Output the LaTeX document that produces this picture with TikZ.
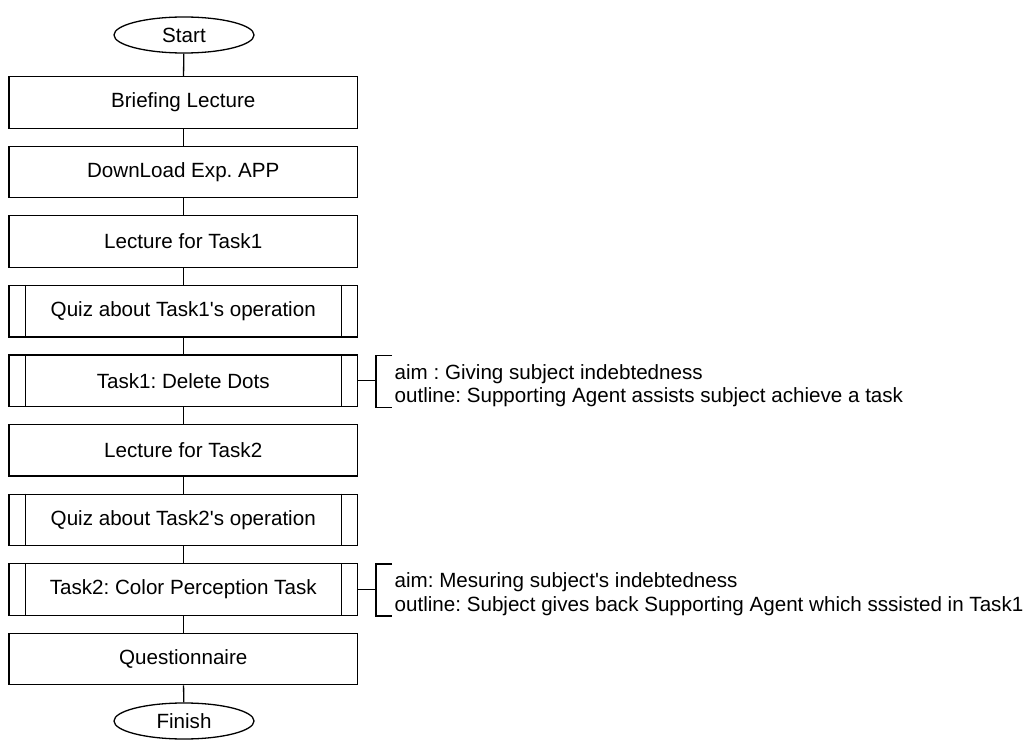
\documentclass[tikz,border=0pt]{standalone}
\usepackage{fontspec}
\newfontfamily\arialfont{Liberation Sans}
\usetikzlibrary{shapes.geometric}
\begin{document}
\frenchspacing
\begin{tikzpicture}[x=1pt,y=-1pt,
  every node/.style={font=\arialfont\fontsize{20.6}{23.3}\selectfont},
  line/.style={line width=1.3pt, black},
  proc/.style={draw, line width=1.3pt, rectangle, minimum width=348.5pt, minimum height=51.5pt, inner sep=0pt},
  subproc/.style={proc, append after command={
      \pgfextra{\draw[line width=1.3pt] ([xshift=17pt]\tikzlastnode.north west) -- ([xshift=17pt]\tikzlastnode.south west);
                \draw[line width=1.3pt] ([xshift=-17pt]\tikzlastnode.north east) -- ([xshift=-17pt]\tikzlastnode.south east);}}},
  term/.style={draw, line width=1.3pt, ellipse, minimum width=140pt, minimum height=36pt, inner sep=0pt},
  note/.style={anchor=west, align=left, inner sep=0pt}
]
\useasboundingbox (0,0) rectangle (1034,751);
\node[term] (start) at (184,35) {Start};
\node[proc] (b1) at (183.25,102.5) {Briefing Lecture};
\node[proc] (b2) at (183.25,172.1) {DownLoad Exp. APP};
\node[proc] (b3) at (183.25,241.6) {Lecture for Task1};
\node[subproc] (b4) at (183.25,311.2) {Quiz about Task1's operation};
\node[subproc] (b5) at (183.25,380.8) {Task1: Delete Dots};
\node[proc] (b6) at (183.25,450.3) {Lecture for Task2};
\node[subproc] (b7) at (183.25,519.9) {Quiz about Task2's operation};
\node[subproc] (b8) at (183.25,589.4) {Task2: Color Perception Task};
\node[proc] (b9) at (183.25,659.0) {Questionnaire};
\node[term] (finish) at (184,721) {Finish};

\draw[line] (start) -- (b1);
\draw[line] (b1) -- (b2);
\draw[line] (b2) -- (b3);
\draw[line] (b3) -- (b4);
\draw[line] (b4) -- (b5);
\draw[line] (b5) -- (b6);
\draw[line] (b6) -- (b7);
\draw[line] (b7) -- (b8);
\draw[line] (b8) -- (b9);
\draw[line] (b9) -- (finish);

\coordinate (br1) at (376,381.5);
\coordinate (br2) at (376,590.1);
\draw[line] (b5.east) -- (b5.east -| br1);
\draw[line] ([xshift=16pt,yshift=26pt]br1) -- ([yshift=26pt]br1) -- ([yshift=-26pt]br1) -- ([xshift=16pt,yshift=-26pt]br1);
\draw[line] (b8.east) -- (b8.east -| br2);
\draw[line] ([xshift=16pt,yshift=26pt]br2) -- ([yshift=26pt]br2) -- ([yshift=-26pt]br2) -- ([xshift=16pt,yshift=-26pt]br2);
\node[note] (n1) at (394.5,385.5) {aim : Giving subject indebtedness\\outline: Supporting Agent assists subject achieve a task};
\node[note] (n2) at (394.5,594.1) {aim: Mesuring subject's indebtedness\\outline: Subject gives back Supporting Agent which sssisted in Task1};
\end{tikzpicture}
\end{document}
